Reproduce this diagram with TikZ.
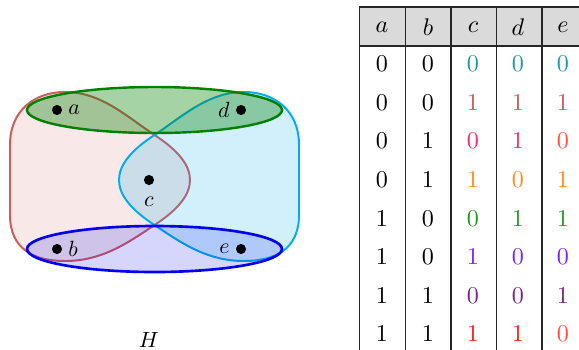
\documentclass[tikz,border=0pt]{standalone}
\usepackage{xcolor}
\definecolor{EdgeRed}{HTML}{CD5C5C}
\definecolor{EdgeCyan}{HTML}{00AEEF}
\definecolor{EdgeGreen}{HTML}{008000}
\definecolor{EdgeBlue}{HTML}{0000F0}
\definecolor{HeadGray}{HTML}{DADADA}
\definecolor{RowTeal}{HTML}{1C98A8}
\definecolor{RowBrick}{HTML}{C9585E}
\definecolor{RowRose}{HTML}{FF2A68}
\definecolor{RowOrRed}{HTML}{FF5040}
\definecolor{RowOrange}{HTML}{FF8C1A}
\definecolor{RowGreen}{HTML}{229922}
\definecolor{RowViolet}{HTML}{7F1FFF}
\definecolor{RowPurple}{HTML}{80208A}
\definecolor{RowRed}{HTML}{FF1A1A}
\usepackage{tikz}
\usetikzlibrary{positioning}

\begin{document}
\begin{tikzpicture}[x=0.4545pt, y=-0.4545pt,
  vtx/.style={circle, fill=black, inner sep=0pt, minimum size=4.6pt},
  lbl/.style={inner sep=1pt},
  cell/.style={inner sep=0pt, font=\fontsize{10.6}{12}\selectfont}]
  \useasboundingbox (0,0) rectangle (579,349);
  \clip (0,0) rectangle (579,349);

  % hyperedges
  \draw[EdgeRed, line width=0.9pt, fill=EdgeRed, fill opacity=0.14]
    (153,134) .. controls (178,150) and (190,165) .. (190,180)
    .. controls (190,195) and (178,210) .. (153,226)
    .. controls (125,245) and (100,261) .. (65,261)
    .. controls (35,261) and (10,250) .. (10,215) -- (10,145)
    .. controls (10,110) and (35,92) .. (65,92)
    .. controls (100,92) and (125,115) .. cycle;
  \draw[EdgeCyan, line width=0.9pt, fill=EdgeCyan, fill opacity=0.18]
    (156,134) .. controls (131,150) and (119,165) .. (119,180)
    .. controls (119,195) and (131,210) .. (156,226)
    .. controls (184,245) and (209,261) .. (244,261)
    .. controls (274,261) and (299,250) .. (299,215) -- (299,145)
    .. controls (299,110) and (274,92) .. (244,92)
    .. controls (209,92) and (184,115) .. cycle;
  \draw[EdgeGreen, line width=1.1pt, fill=EdgeGreen, fill opacity=0.35]
    (154.5,110) ellipse [x radius=127.5, y radius=23];
  \draw[EdgeBlue, line width=1.2pt, fill=EdgeBlue, fill opacity=0.16]
    (154.5,249) ellipse [x radius=127.5, y radius=23];

  % vertices
  \node[vtx] (a) at (57,110) {};
  \node[vtx] (d) at (241,110) {};
  \node[vtx] (c) at (149,180) {};
  \node[vtx] (b) at (57,249) {};
  \node[vtx] (e) at (241,249) {};
  \node[lbl, right=1.5pt of a] (la) {$a$};
  \node[lbl, left=1.5pt of d] (ld) {$d$};
  \node[lbl, below=4pt of c] (lc) {$c$};
  \node[lbl, right=1.5pt of b] (lb) {$b$};
  \node[lbl, left=1.5pt of e] (le) {$e$};
  \node (H) at (149,340) {$H$};

  % table
  \fill[HeadGray] (359,7) rectangle (600,46);
  \draw[black!85, line width=0.6pt] (359,7) -- (600,7) (359,46) -- (600,46);
  \foreach \x in {359.5,405.5,451,496.5,542}
    \draw[black!85, line width=0.6pt] (\x,7) -- (\x,360);
  \node[cell] (ha) at (382,27) {$a$};
  \node[cell] (hb) at (428,27) {$b$};
  \node[cell] (hc) at (473,27) {$c$};
  \node[cell] (hd) at (518,27) {$d$};
  \node[cell] (he) at (563,27) {$e$};
  \foreach \va/\vb/\vc/\vd/\ve/\cl/\ce [count=\i] in {
      0/0/0/0/0/RowTeal/RowTeal, 0/0/1/1/1/RowBrick/RowBrick,
      0/1/0/1/0/RowRose/RowOrRed, 0/1/1/0/1/RowOrange/RowOrange,
      1/0/0/1/1/RowGreen/RowGreen, 1/0/1/0/0/RowViolet/RowViolet,
      1/1/0/0/1/RowPurple/RowPurple, 1/1/1/1/0/RowRed/RowOrRed} {
    \node[cell] (ra\i) at (382,{64+38.6*(\i-1)}) {$\va$};
    \node[cell] (rb\i) at (428,{64+38.6*(\i-1)}) {$\vb$};
    \node[cell, text=\cl] (rc\i) at (473,{64+38.6*(\i-1)}) {$\vc$};
    \node[cell, text=\cl] (rd\i) at (518,{64+38.6*(\i-1)}) {$\vd$};
    \node[cell, text=\ce] (re\i) at (563,{64+38.6*(\i-1)}) {$\ve$};
  }
\end{tikzpicture}
\end{document}
